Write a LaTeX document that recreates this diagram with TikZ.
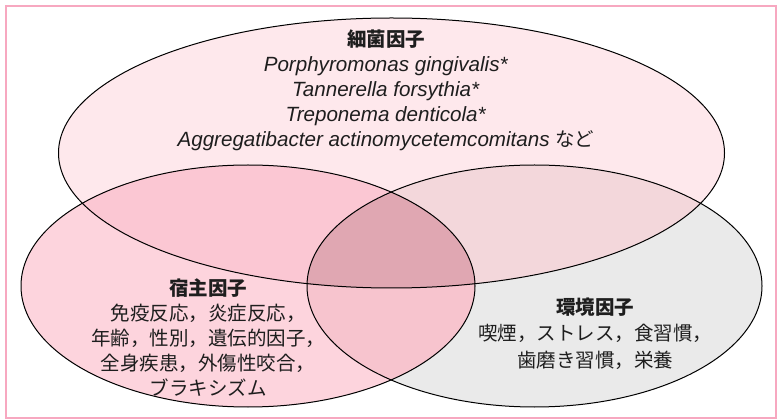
\documentclass[tikz,border=0pt]{standalone}
\usepackage{fontspec}
\setmainfont{Liberation Sans}
\newfontfamily\jpfont{Noto Sans CJK JP}
\definecolor{framepink}{RGB}{247,168,192}
\definecolor{topfill}{RGB}{254,232,236}
\definecolor{leftfill}{RGB}{253,212,221}
\definecolor{rightfill}{RGB}{234,234,234}
\definecolor{tlfill}{RGB}{251,199,211}
\definecolor{trfill}{RGB}{243,215,219}
\definecolor{lrfill}{RGB}{247,196,206}
\definecolor{allfill}{RGB}{224,167,178}
\definecolor{txt}{RGB}{30,30,30}
\tikzset{
  venn/.style={draw=black, line width=1pt},
  lbl/.style={align=center, text=txt, inner sep=0pt, font=\fontsize{20.6}{25}\selectfont},
}
\begin{document}
\begin{tikzpicture}[x=1pt,y=-1pt]
\useasboundingbox (0,0) rectangle (779,419);
\fill[white] (0,0) rectangle (779,419);
\draw[framepink, line width=2pt] (6,6) rectangle (776,417.5);
% base fills
\def\topE{(391.5,153) ellipse [x radius=333, y radius=135]}
\def\leftE{(248,286) ellipse [x radius=227, y radius=121]}
\def\rightE{(534.5,286) ellipse [x radius=227.5, y radius=121]}
\fill[topfill] \topE;
\fill[leftfill] \leftE;
\fill[rightfill] \rightE;
\begin{scope}
  \clip \topE;
  \fill[tlfill] \leftE;
  \fill[trfill] \rightE;
\end{scope}
\begin{scope}
  \clip \leftE;
  \fill[lrfill] \rightE;
\end{scope}
\begin{scope}
  \clip \topE;
  \clip \leftE;
  \fill[allfill] \rightE;
\end{scope}
\draw[venn] \topE;
\draw[venn] \leftE;
\draw[venn] \rightE;
% texts
\node[lbl] (bact) at (386,90) {{\jpfont\fontsize{19.5}{25}\selectfont\bfseries 細菌因子}\\
  \textit{Porphyromonas gingivalis*}\\
  \textit{Tannerella forsythia*}\\
  \textit{Treponema denticola*}\\
  \textit{Aggregatibacter actinomycetemcomitans} {\jpfont\fontsize{19.5}{25}\selectfont など}};
\node[lbl, font=\jpfont\fontsize{19.5}{24.8}\selectfont] (host) at (208,337.5) {{\bfseries 宿主因子}\\
  免疫反応，炎症反応，\\
  年齢，性別，遺伝的因子，\\
  全身疾患，外傷性咬合，\\
  ブラキシズム};
\node[lbl, font=\jpfont\fontsize{19.5}{26.5}\selectfont] (env) at (595,333.5) {{\bfseries 環境因子}\\
  喫煙，ストレス，食習慣，\\
  歯磨き習慣，栄養};
\end{tikzpicture}
\end{document}
